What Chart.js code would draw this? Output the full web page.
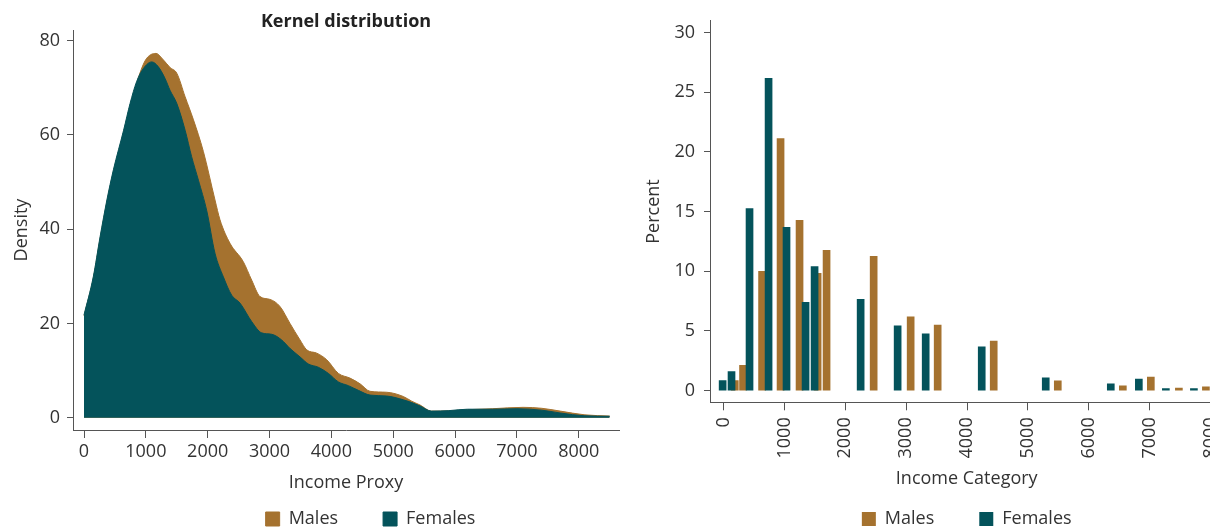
<!DOCTYPE html>
<html><head><meta charset="utf-8">
<script src="https://cdn.jsdelivr.net/npm/chart.js@4.4.1/dist/chart.umd.min.js"></script>
<style>
html,body{margin:0;padding:0;background:#fff;overflow:hidden;width:1210px;height:527px;}
#kernel{position:absolute;left:0;top:0;}
#hist{position:absolute;left:640px;top:0;}
</style></head><body>
<canvas id="kernel" width="741" height="538"></canvas>
<canvas id="hist" width="599" height="538"></canvas>
<script>
// ---- Kernel density (left) ----
const kernelFemaleX = [0, 150, 260, 370, 475, 640, 745, 850, 960, 1095, 1200, 1310, 1390, 1500, 1635, 1740, 1850, 1985, 2118, 2253, 2388, 2524, 2711, 2873, 3035, 3196, 3331, 3493, 3628, 3790, 3952, 4113, 4275, 4437, 4625, 4895, 5163, 5300, 5433, 5620, 5900, 6200, 6600, 7000, 7400, 7700, 8100, 8500];
const kernelFemaleY = [21.8, 29.9, 38.4, 46.2, 52.6, 61.0, 66.7, 71.3, 74.1, 75.5, 74.5, 72.0, 69.5, 66.7, 61.0, 55.4, 50.4, 43.9, 34.9, 29.9, 26.0, 24.3, 20.4, 18.0, 17.7, 16.5, 14.7, 12.9, 11.4, 10.7, 9.4, 7.6, 6.8, 5.8, 4.8, 4.6, 3.8, 3.2, 2.5, 1.4, 1.5, 1.8, 1.8, 1.9, 1.6, 1.0, 0.4, 0.3];
const kernelMaleX = [0, 150, 260, 370, 475, 640, 745, 850, 995, 1165, 1285, 1392, 1500, 1635, 1770, 1930, 2118, 2199, 2361, 2576, 2711, 2846, 3008, 3169, 3331, 3493, 3601, 3763, 3925, 4113, 4301, 4463, 4625, 4895, 5163, 5300, 5433, 5620, 5900, 6200, 6600, 7100, 7400, 7700, 8100, 8500];
const kernelMaleY = [21.6, 29.6, 38.0, 45.8, 52.2, 60.6, 66.3, 71.0, 75.9, 77.3, 75.9, 74.3, 73.1, 68.1, 63.2, 56.5, 46.2, 42.0, 37.0, 33.1, 29.2, 25.7, 25.1, 23.6, 20.0, 16.5, 14.4, 13.7, 12.3, 9.4, 8.4, 7.2, 5.6, 5.4, 4.5, 3.5, 2.7, 1.4, 1.45, 1.7, 1.9, 2.2, 2.0, 1.4, 0.6, 0.35];
const kernelXTicks = [0, 1000, 2000, 3000, 4000, 5000, 6000, 7000, 8000];
const kernelYTicks = [0, 20, 40, 60, 80];

// ---- Income category histogram (right) ----
const histFemaleX = [-16, 130, 426, 739, 1034, 1347, 1495, 2252, 2860, 3321, 4242, 5294, 6363, 6824, 7268, 7729];
const histFemaleY = [0.85, 1.6, 15.25, 26.15, 13.68, 7.4, 10.4, 7.65, 5.43, 4.76, 3.68, 1.07, 0.57, 0.98, 0.17, 0.17];
const histMaleX = [184, 319, 632, 936, 1248, 1545, 1692, 2466, 3074, 3518, 4439, 5492, 6561, 7021, 7482, 7926];
const histMaleY = [0.85, 2.12, 10.0, 21.12, 14.27, 9.83, 11.75, 11.25, 6.18, 5.5, 4.16, 0.82, 0.41, 1.15, 0.23, 0.32];
const histXTicks = [0, 1000, 2000, 3000, 4000, 5000, 6000, 7000, 8000];
const histYTicks = [0, 5, 10, 15, 20, 25, 30];

const seriesNames = ['Males', 'Females'];
const maleColor = '#A5722F';
const femaleColor = '#04535B';
const textColor = '#333333';
const axisColor = '#555555';

Chart.defaults.font.family = "'Open Sans', sans-serif";
Chart.defaults.font.size = 18;
Chart.defaults.color = textColor;

const pts = (xs, ys) => xs.map((x, i) => ({x: x, y: ys[i]}));
const setTicks = arr => s => { s.ticks = arr.map(v => ({value: v})); };
const gridOpts = len => ({display: true, offset: false, drawOnChartArea: false, drawTicks: true, tickLength: len, color: axisColor, lineWidth: 1});
const legendOpts = full => ({
  position: 'bottom', fullSize: full,
  labels: {boxWidth: 14, boxHeight: 14, padding: 45, font: {size: 18}, color: textColor,
           sort: (a, b) => a.datasetIndex - b.datasetIndex}
});

new Chart(document.getElementById('kernel'), {
  type: 'line',
  data: {
    datasets: [
      {label: seriesNames[0], data: pts(kernelMaleX, kernelMaleY), order: 2,
       backgroundColor: maleColor, borderColor: maleColor, borderWidth: 1, fill: 'origin',
       pointRadius: 0, cubicInterpolationMode: 'monotone'},
      {label: seriesNames[1], data: pts(kernelFemaleX, kernelFemaleY), order: 1,
       backgroundColor: femaleColor, borderColor: femaleColor, borderWidth: 1, fill: 'origin',
       pointRadius: 0, cubicInterpolationMode: 'monotone'}
    ]
  },
  options: {
    responsive: false, animation: false, events: [],
    layout: {padding: 0},
    plugins: {
      tooltip: {enabled: false},
      title: {display: true, text: 'Kernel distribution', fullSize: false, color: '#222222',
              font: {size: 18, weight: 'bold'}, padding: {top: 11.4, bottom: -3.0}},
      legend: legendOpts(true)
    },
    scales: {
      x: {type: 'linear', offset: false, min: -178, max: 8651,
          afterBuildTicks: setTicks(kernelXTicks),
          afterFit: s => { s.height = 35; },
          grid: gridOpts(8), border: {display: true, color: axisColor, width: 1},
          ticks: {padding: 3, maxRotation: 0, autoSkip: false, callback: v => String(v)},
          title: {display: true, text: 'Income Proxy', padding: {top: 0, bottom: -28.8}}},
      y: {type: 'linear', min: -2.61, max: 82.27,
          afterBuildTicks: setTicks(kernelYTicks),
          afterFit: s => { s.width = 73; },
          grid: gridOpts(6), border: {display: true, color: axisColor, width: 1},
          ticks: {padding: 7, callback: v => String(v)},
          title: {display: true, text: 'Density', padding: {top: 11, bottom: 0}}},
      padR: {type: 'linear', position: 'right', display: true,
             grid: {display: false}, border: {display: false}, ticks: {display: false},
             afterFit: s => { s.width = 122; }}
    }
  }
});

new Chart(document.getElementById('hist'), {
  type: 'bar',
  data: {
    datasets: [
      {label: seriesNames[0], data: pts(histMaleX, histMaleY), order: 2,
       backgroundColor: maleColor, borderWidth: 0},
      {label: seriesNames[1], data: pts(histFemaleX, histFemaleY), order: 1,
       backgroundColor: femaleColor, borderWidth: 0}
    ]
  },
  options: {
    responsive: false, animation: false, events: [],
    grouped: false, barThickness: 7,
    layout: {padding: {top: 20.7, left: 0, right: 0, bottom: 0}},
    plugins: {
      tooltip: {enabled: false},
      legend: legendOpts(false)
    },
    scales: {
      x: {type: 'linear', offset: false, min: -223.7, max: 8214,
          afterBuildTicks: setTicks(histXTicks),
          afterFit: s => { s.height = 62.7; },
          grid: gridOpts(8), border: {display: true, color: axisColor, width: 1},
          ticks: {padding: 7, minRotation: 90, maxRotation: 90, autoSkip: false, callback: v => String(v)},
          title: {display: true, text: 'Income Category', padding: {top: 0, bottom: -25.1}}},
      y: {type: 'linear', min: -0.971, max: 30.98,
          afterBuildTicks: setTicks(histYTicks),
          afterFit: s => { s.width = 70; },
          grid: gridOpts(6), border: {display: true, color: axisColor, width: 1},
          ticks: {padding: 9, callback: v => String(v)},
          title: {display: true, text: 'Percent', padding: {top: 3, bottom: 0}}}
    }
  }
});
</script>
</body></html>
